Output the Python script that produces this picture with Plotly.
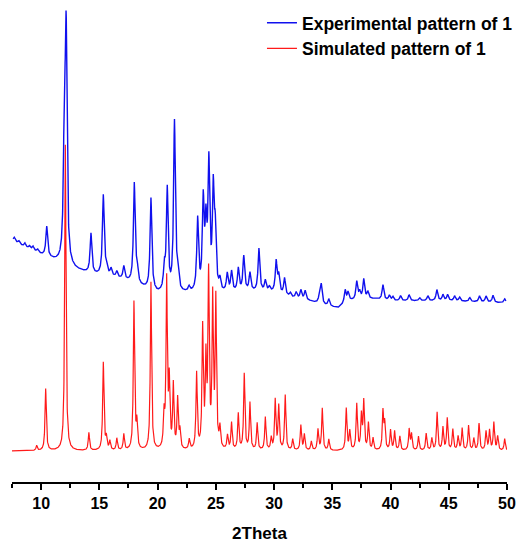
import numpy as np
import plotly.graph_objects as go

# ---- data (2Theta in degrees, intensity in arbitrary units) ----
sim_pos = [9.62, 10.39, 12.08, 14.1, 15.34, 15.6, 15.9, 16.5, 17.1, 17.97, 18.22, 19.43, 20.55, 20.78,
           21.0, 21.35, 21.72, 21.92, 22.72, 23.35, 23.87, 24.15, 24.38, 24.73, 25.0, 25.35, 26.0, 26.35,
           26.93, 27.44, 27.93, 28.55, 29.25, 29.76, 30.1, 30.4, 30.96, 31.6, 32.3, 32.6, 33.2, 33.77,
           34.14, 34.7, 36.2, 36.5, 37.1, 37.5, 37.7, 38.1, 38.5, 39.35, 39.5, 40.0, 40.35, 40.8, 41.6,
           41.8, 42.4, 43.06, 43.55, 44.0, 44.5, 44.87, 45.35, 45.8, 46.15, 46.7, 47.15, 47.6, 48.2,
           48.5, 48.87, 49.2, 49.8]
sim_int = [5, 62, 306, 18, 88, 12, 9, 12, 16, 148, 26, 168, 32, 168,
           66, 64, 50, 18, 10, 76, 120, 85, 172, 148, 148, 20, 14, 27,
           36, 76, 47, 27, 33, 12, 50, 44, 55, 11, 25, 16, 9, 21,
           42, 11, 42, 19, 46, 34, 48, 27, 12, 38, 26, 20, 19, 14, 21,
           16, 14, 17, 12, 38, 23, 32, 21, 14, 22, 25, 12, 27, 19,
           20, 28, 14, 12]

exp_pos = [7.7, 8.1, 8.6, 9.0, 9.3, 9.7, 10.48, 12.0, 12.15, 14.28, 15.34, 15.6, 16.0, 16.5, 17.1,
           18.0, 18.25, 19.43, 20.58, 20.83, 21.45, 21.72, 22.7, 23.44, 23.92, 24.15, 24.4, 24.78,
           24.95, 25.35, 25.98, 26.35, 26.93, 27.4, 27.93, 28.7, 29.25, 29.6, 30.18, 30.4, 30.9, 31.4,
           31.9, 32.3, 32.67, 33.9, 34.05, 34.7, 36.1, 36.35, 37.1, 37.35, 37.7, 38.05, 39.35, 39.9,
           40.2, 40.86, 41.6, 42.5, 43.2, 43.98, 44.5, 44.9, 45.5, 45.93, 46.8, 47.64, 48.2, 48.8, 49.8]
exp_int = [4, 3, 4, 3, 4, 3, 30, 135, 218, 40, 80, 7, 7, 6, 13,
           100, 14, 92, 22, 102, 170, 18, 5, 72, 88, 60, 125, 98,
           55, 11, 18, 20, 23, 35, 18, 43, 11, 5, 31, 17, 17, 4,
           6, 9, 9, 7, 19, 7, 13, 9, 18, 7, 20, 7, 15, 5,
           4, 5, 6, 3, 5, 11, 6, 6, 5, 4, 4, 6, 6, 7, 4]

exp_bg_x = [7.6, 8.5, 9.5, 10.0, 11.0, 13.0, 14.5, 16.0, 17.0, 18.5, 20.0, 22.5, 25.5, 28.0,
            30.0, 31.5, 33.0, 34.5, 35.5, 36.5, 38.5, 40.0, 45.0, 49.9]
exp_bg_y = [241, 235, 230, 227, 222, 212, 207, 205, 202, 195, 188, 188, 188, 190,
            189, 184, 181, 176, 174, 181, 183, 181, 181, 179]

sim_baseline = 31

x_ticks = [10, 15, 20, 25, 30, 35, 40, 45, 50]


def profile(x, pos, amp, hw):
    p = np.asarray(pos)[:, None]
    a = np.asarray(amp)[:, None]
    return (a / (1 + ((x[None, :] - p) / hw) ** 2)).sum(axis=0)


x_sim = np.arange(7.5, 50.0001, 0.01)
y_sim = sim_baseline + profile(x_sim, sim_pos, sim_int, 0.065)

x_exp = np.arange(7.6, 49.9001, 0.01)
y_exp = np.interp(x_exp, exp_bg_x, exp_bg_y) + profile(x_exp, exp_pos, exp_int, 0.09)

fig = go.Figure()
fig.add_trace(go.Scatter(x=x_sim, y=y_sim, mode="lines", name="Simulated pattern of 1",
                         line=dict(color="#ff1a1a", width=1.2), legendrank=2, legendgroup="b"))
fig.add_trace(go.Scatter(x=x_exp, y=y_exp, mode="lines", name="Experimental pattern of 1",
                         line=dict(color="#1010ee", width=1.4), legendrank=1, legendgroup="a"))

font_family = "Arial, Liberation Sans, sans-serif"
fig.update_layout(
    width=518, height=543,
    margin=dict(l=12, r=11, t=0, b=61),
    paper_bgcolor="white", plot_bgcolor="white",
    showlegend=True,
    legend=dict(x=0.505, y=0.99, xanchor="left", yanchor="top",
                font=dict(family=font_family, size=17.5, color="black", weight="bold"),
                bgcolor="rgba(0,0,0,0)", tracegroupgap=0, itemwidth=30),
    xaxis=dict(range=[7.5, 50], tickvals=x_ticks, showline=True, linecolor="black", linewidth=2,
               ticks="outside", ticklen=6, tickwidth=2, tickcolor="black",
               minor=dict(dtick=2.5, tick0=0, ticks="outside", ticklen=4, tickwidth=2, tickcolor="black"),
               showgrid=False, zeroline=False, mirror=False,
               tickfont=dict(family=font_family, size=16, color="black", weight="bold"),
               title=dict(text="2Theta", standoff=16,
                          font=dict(family=font_family, size=17, color="black", weight="bold"))),
    yaxis=dict(range=[0, 482], visible=False, showgrid=False, zeroline=False),
)

fig.write_html("out.html")
